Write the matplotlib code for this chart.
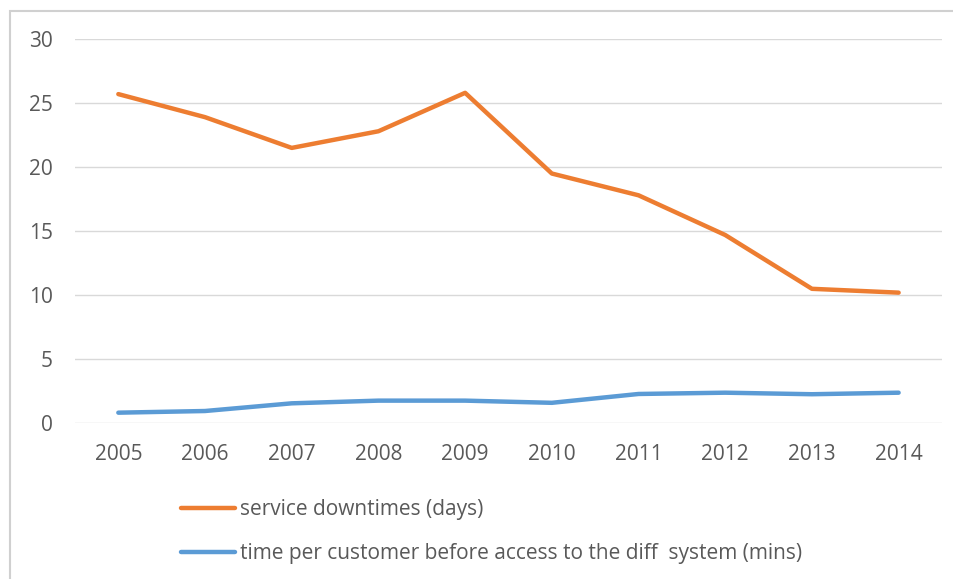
import matplotlib
matplotlib.use("Agg")
import matplotlib.pyplot as plt
from matplotlib.patches import Rectangle

years = ["2005", "2006", "2007", "2008", "2009", "2010", "2011", "2012", "2013", "2014"]
downtime_days = [25.7, 23.9, 21.5, 22.8, 25.8, 19.5, 17.8, 14.7, 10.5, 10.2]
wait_mins = [0.83, 0.96, 1.56, 1.77, 1.77, 1.6, 2.29, 2.39, 2.27, 2.39]

TEXT = "#595959"
GRID = "#d9d9d9"

plt.rcParams['font.family'] = ['Open Sans', 'DejaVu Sans']

fig = plt.figure(figsize=(9.54, 5.79), dpi=100)
ax = fig.add_axes([0.0786, 0.2689, 0.9088, 0.6637])

# outer chart frame
fig.patches.append(Rectangle((10 / 954, -0.05), 1.1, 1 - 11 / 579 + 0.05,
                             transform=fig.transFigure, fill=False,
                             edgecolor="#d0d0d0", linewidth=1.5))

x = range(len(years))
l1, = ax.plot(x, downtime_days, color="#ED7D31", lw=3.2, solid_capstyle="round",
              label="service downtimes (days)")
l2, = ax.plot(x, wait_mins, color="#5B9BD5", lw=3.2, solid_capstyle="round",
              label="time per customer before access to the diff  system (mins)")

ax.set_xlim(-0.5, len(years) - 0.5)
ax.set_ylim(0, 30)
ax.set_yticks(range(0, 31, 5))
ax.set_xticks(list(x))
ax.set_xticklabels(years)
ax.grid(axis="y", color=GRID, lw=1)
ax.set_axisbelow(True)
for s in ax.spines.values():
    s.set_visible(False)
ax.tick_params(length=0, colors=TEXT, labelsize=15)
ax.tick_params(axis="y", pad=16)
ax.tick_params(axis="x", pad=15)

fig.legend(handles=[l1, l2], loc="upper left", bbox_to_anchor=(181 / 954, 1 - 499 / 579),
           frameon=False, fontsize=15, labelcolor=TEXT, handlelength=2.6,
           handletextpad=0.25, labelspacing=1.1, borderaxespad=0, borderpad=0)

fig.savefig("out.png", dpi=100, facecolor="white")
